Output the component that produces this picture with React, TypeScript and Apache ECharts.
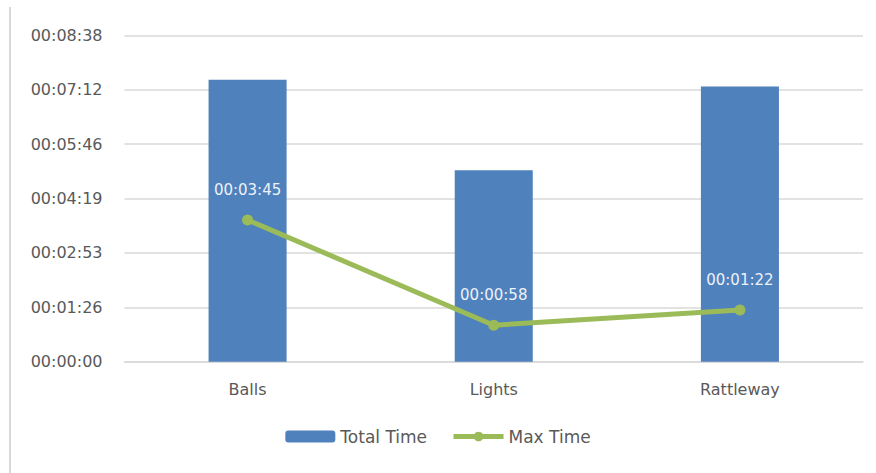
import React, { useEffect, useRef } from "react";
import * as echarts from "echarts";

// Durations are stored in seconds.
const categories = ["Balls", "Lights", "Rattleway"];
const totalTime = [448, 304, 437];
const maxTime = [225, 58, 82];
// Axis step of 0.001 day (86.4 s), six steps.
const axisStep = 86.4;
const axisMax = 518.4;

const fmt = (sec: number): string => {
  const s = Math.round(sec);
  const h = Math.floor(s / 3600);
  const m = Math.floor((s % 3600) / 60);
  const r = s % 60;
  const p = (n: number) => String(n).padStart(2, "0");
  return `${p(h)}:${p(m)}:${p(r)}`;
};

export default function App() {
  const ref = useRef<HTMLDivElement>(null);

  useEffect(() => {
    if (!ref.current) return;
    const chart = echarts.init(ref.current, null, { renderer: "svg" });
    const font = "DejaVu Sans";
    chart.setOption({
      animation: false,
      backgroundColor: "#ffffff",
      textStyle: { fontFamily: font },
      grid: { left: 124.5, right: 13, top: 35.3, bottom: 111.3, containLabel: false },
      graphic: [
        {
          type: "line",
          shape: { x1: 10, y1: 7, x2: 10, y2: 473 },
          style: { stroke: "#d9d9d9", lineWidth: 2 },
          silent: true,
        },
      ],
      legend: {
        bottom: 23,
        left: "center",
        itemWidth: 50,
        itemHeight: 12,
        itemGap: 24,
        textStyle: { color: "#595959", fontSize: 17, fontFamily: font },
        data: [
          { name: "Total Time" },
          {
            name: "Max Time",
            lineStyle: { width: 5, color: "#9bbb59" },
            itemStyle: { color: "#9bbb59" },
          },
        ],
      },
      xAxis: {
        type: "category",
        data: categories,
        axisLine: { lineStyle: { color: "#d9d9d9", width: 1.5 } },
        axisTick: { show: false },
        axisLabel: { color: "#595959", fontSize: 16, margin: 20, fontFamily: font },
      },
      yAxis: {
        type: "value",
        min: 0,
        max: axisMax,
        interval: axisStep,
        axisLine: { show: false },
        axisTick: { show: false },
        splitLine: { lineStyle: { color: "#d9d9d9", width: 1.5 } },
        axisLabel: {
          color: "#595959",
          fontSize: 16,
          margin: 22,
          fontFamily: font,
          formatter: (v: number) => fmt(v),
        },
      },
      series: [
        {
          name: "Total Time",
          type: "bar",
          data: totalTime,
          barWidth: "31.7%",
          itemStyle: { color: "#4f81bd" },
        },
        {
          name: "Max Time",
          type: "line",
          data: maxTime,
          symbol: "circle",
          symbolSize: 11,
          lineStyle: { color: "#9bbb59", width: 5 },
          itemStyle: { color: "#9bbb59" },
          label: {
            show: true,
            position: "top",
            distance: 17,
            color: "#eef2f8",
            fontSize: 15,
            fontFamily: font,
            formatter: (p: any) => fmt(p.value),
          },
        },
      ],
    });
    return () => chart.dispose();
  }, []);

  return (
    <div
      ref={ref}
      style={{ position: "fixed", left: 0, top: 0, width: 876, height: 473 }}
    />
  );
}
